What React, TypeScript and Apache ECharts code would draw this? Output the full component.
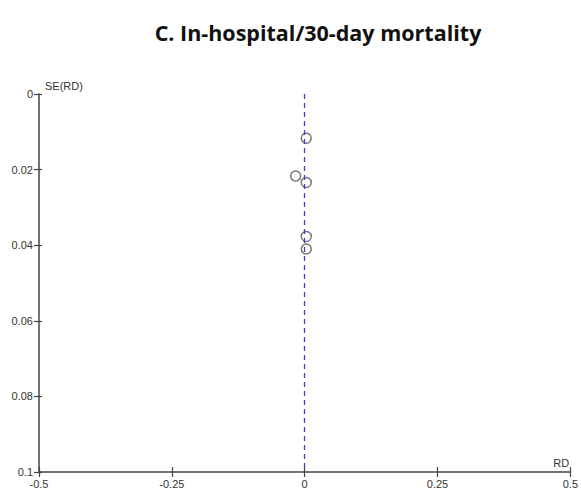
import React, { useEffect, useRef } from "react";
import * as echarts from "echarts";

const titleText = "C. In-hospital/30-day mortality";
const rdValues = [0.003, -0.017, 0.003, 0.003, 0.003];
const seValues = [0.0117, 0.0217, 0.0234, 0.0377, 0.041];
const xTicks = [-0.5, -0.25, 0, 0.25, 0.5];
const yTicks = [0, 0.02, 0.04, 0.06, 0.08, 0.1];

export default function App() {
  const ref = useRef<HTMLDivElement>(null);
  useEffect(() => {
    if (!ref.current) return;
    const chart = echarts.init(ref.current, undefined, { renderer: "svg" });
    const axisColor = "#444";
    const labelStyle = { color: "#333", fontFamily: "Liberation Sans", fontSize: 11 };
    const xBase = {
      type: "value" as const,
      min: xTicks[0],
      max: xTicks[xTicks.length - 1],
      interval: 0.25,
      splitLine: { show: false },
    };
    const yBase = {
      type: "value" as const,
      min: yTicks[0],
      max: yTicks[yTicks.length - 1],
      interval: 0.02,
      inverse: true,
      splitLine: { show: false },
    };
    chart.setOption({
      animation: false,
      backgroundColor: "#fff",
      title: {
        text: titleText,
        left: 313,
        top: 16,
        textAlign: "center",
        textStyle: { fontFamily: "Open Sans", fontWeight: "bold", fontSize: 21.5, color: "#111" },
      },
      grid: { left: 39, right: 10, top: 94, bottom: 27, containLabel: false },
      xAxis: [
        {
          ...xBase,
          position: "bottom",
          axisLine: { show: true, onZero: false, lineStyle: { color: axisColor, width: 1.5 } },
          name: "RD",
          nameLocation: "end",
          nameGap: -17,
          nameTextStyle: { ...labelStyle, align: "left", verticalAlign: "bottom", padding: [0, 0, 4, 0] },
          axisTick: { show: true, length: 5, lineStyle: { color: axisColor, width: 1.2 } },
          axisLabel: {
            ...labelStyle,
            margin: 6,
            formatter: (v: number) => String(v),
          },
        },
        {
          ...xBase,
          position: "bottom",
          axisLine: { show: false, onZero: false },
          axisTick: { show: true, inside: true, length: 5, lineStyle: { color: axisColor, width: 1.2 } },
          axisLabel: { show: false },
        },
      ],
      yAxis: [
        {
          ...yBase,
          position: "left",
          axisLine: { show: true, onZero: false, lineStyle: { color: axisColor, width: 1.5 } },
          name: "SE(RD)",
          nameLocation: "start",
          nameGap: 3,
          nameTextStyle: { ...labelStyle, align: "left", padding: [0, 0, 0, 6] },
          axisTick: { show: true, length: 5, lineStyle: { color: axisColor, width: 1.2 } },
          axisLabel: {
            ...labelStyle,
            margin: 6,
            formatter: (v: number) => String(v),
          },
        },
        {
          ...yBase,
          position: "left",
          axisLine: { show: false, onZero: false },
          axisTick: { show: true, inside: true, length: 3, lineStyle: { color: axisColor, width: 1.2 } },
          axisLabel: { show: false },
        },
      ],
      series: [
        {
          type: "scatter",
          xAxisIndex: 0,
          yAxisIndex: 0,
          data: rdValues.map((x, i) => [x, seValues[i]]),
          symbol: "circle",
          symbolSize: 10,
          itemStyle: { color: "rgba(255,255,255,0)", borderColor: "#555", borderWidth: 1.5 },
          markLine: {
            silent: true,
            symbol: "none",
            label: { show: false },
            lineStyle: { color: "#3344dd", type: [5, 4], width: 1.3 },
            data: [{ xAxis: 0 }],
          },
          z: 3,
        },
      ],
    });
    return () => chart.dispose();
  }, []);
  return <div ref={ref} style={{ width: 581, height: 499, position: "absolute", left: 0, top: 0 }} />;
}
